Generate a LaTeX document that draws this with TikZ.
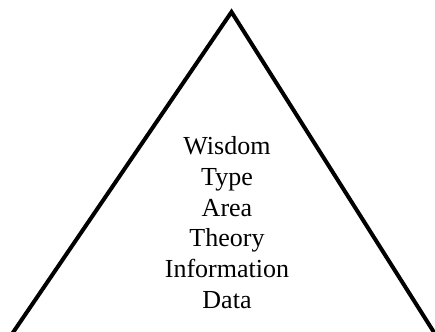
\documentclass[tikz,border=0pt]{standalone}
\usepackage{fontspec}
\setmainfont{Liberation Serif}
\begin{document}
\begin{tikzpicture}[x=1pt,y=1pt,
  edge/.style={line width=4pt, line join=miter, black},
  label/.style={align=center, inner sep=0pt,
    font=\fontsize{26}{30.6}\selectfont}]
\useasboundingbox (0,0) rectangle (435,331);
\clip (0,0) rectangle (435,331);
% apex and the two base points (below the visible edge)
\coordinate (top) at (231.5,319);
\coordinate (bl) at (4.5,-14);
\coordinate (br) at (442,-14);
\draw[edge] (bl) -- (top) -- (br);
% the base anchor of a multi-line node sits on its last line
\node[label, anchor=base] (levels) at (227,23)
  {Wisdom\\Type\\Area\\Theory\\Information\\Data};
\end{tikzpicture}
\end{document}
